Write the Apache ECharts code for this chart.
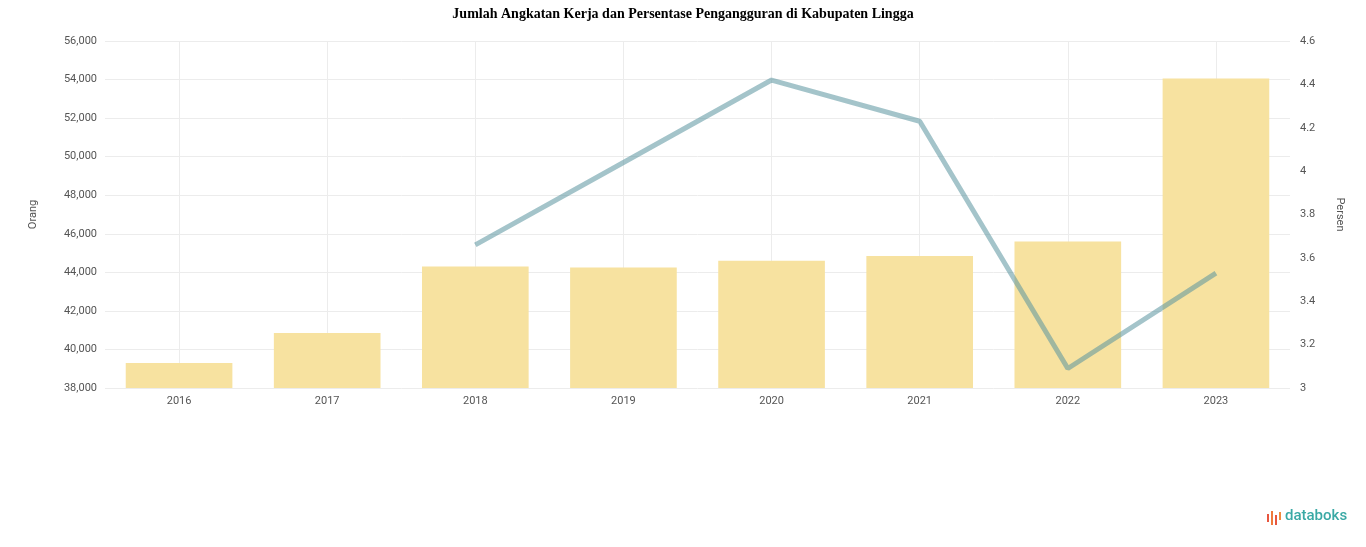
<!DOCTYPE html>
<html><head><meta charset="utf-8">
<script src="https://cdn.jsdelivr.net/npm/echarts@6/dist/echarts.min.js"></script>
<style>html,body{margin:0;padding:0;background:#fff}#c{width:1366px;height:547px}</style>
</head><body><div id="c"></div>
<script>
var categories = ['2016','2017','2018','2019','2020','2021','2022','2023'];
var angkatanKerja = [39300, 40850, 44300, 44250, 44600, 44850, 45600, 54050];
var pengangguran = [null, null, 3.66, 4.04, 4.42, 4.23, 3.09, 3.53];
var leftTicks = {min: 38000, max: 56000, interval: 2000};
var rightTicks = {min: 3, max: 4.6, interval: 0.2};

var chart = echarts.init(document.getElementById('c'));
var lab = {color: '#555', fontSize: 11, fontFamily: 'Roboto, sans-serif'};
chart.setOption({
  animation: false,
  title: {text: 'Jumlah Angkatan Kerja dan Persentase Pengangguran di Kabupaten Lingga', left: 'center', top: 2,
    textStyle: {fontFamily: '"Liberation Serif", serif', fontWeight: 'bold', fontSize: 14, color: '#000'}},
  grid: [
    {left: 105, right: 76, top: 41, bottom: 159},
    {left: 179, right: 150, top: 41, bottom: 159}
  ],
  xAxis: [
    {type: 'category', data: categories, gridIndex: 0, axisLine: {show: false}, axisTick: {show: false},
     axisLabel: Object.assign({margin: 8}, lab), splitLine: {show: false}},
    {type: 'category', data: categories, gridIndex: 1, boundaryGap: false, axisLine: {show: false}, axisTick: {show: false},
     axisLabel: {show: false}, splitLine: {show: true, lineStyle: {color: '#ececec', width: 1}}}
  ],
  yAxis: [
    {type: 'value', gridIndex: 0, min: leftTicks.min, max: leftTicks.max, interval: leftTicks.interval,
     name: 'Orang', nameLocation: 'middle', nameGap: 66, nameTextStyle: {color: '#555', fontSize: 11, fontFamily: 'Roboto, sans-serif'},
     axisLabel: Object.assign({formatter: function(v){return v.toLocaleString('en-US');}}, lab),
     axisLine: {show: false}, axisTick: {show: false}, splitLine: {lineStyle: {color: '#ececec'}}},
    {type: 'value', gridIndex: 0, min: rightTicks.min, max: rightTicks.max, interval: rightTicks.interval, position: 'right',
     name: 'Persen', nameLocation: 'middle', nameGap: 44, nameRotate: -90, nameTextStyle: {color: '#555', fontSize: 11, fontFamily: 'Roboto, sans-serif'},
     axisLabel: Object.assign({formatter: function(v){var s = (Math.round(v*10)/10).toFixed(1); return s.replace(/\.0$/, '');}, margin: 10}, lab),
     axisLine: {show: false}, axisTick: {show: false}, splitLine: {show: false}},
    {type: 'value', gridIndex: 1, show: false}
  ],
  series: [
    {type: 'bar', name: 'Angkatan Kerja', data: angkatanKerja, xAxisIndex: 0, yAxisIndex: 0, barWidth: '72%',
     itemStyle: {color: '#f7e2a0'}},
    {type: 'line', name: 'Pengangguran', data: pengangguran, xAxisIndex: 0, yAxisIndex: 1, symbol: 'none',
     lineStyle: {color: 'rgba(90,148,158,0.55)', width: 5}}
  ],
  graphic: [
    {type: 'rect', shape: {x: 1267, y: 514, width: 2, height: 8}, style: {fill: '#e8563f'}},
    {type: 'rect', shape: {x: 1271, y: 511, width: 2, height: 14}, style: {fill: '#ef7a3c'}},
    {type: 'rect', shape: {x: 1275, y: 515, width: 2, height: 10}, style: {fill: '#e8563f'}},
    {type: 'rect', shape: {x: 1279, y: 512, width: 2, height: 8}, style: {fill: '#f08a3c'}},
    {type: 'text', left: 1285, top: 509, style: {text: 'databoks', fill: '#3aa9a5', font: '500 15px Roboto, sans-serif'}}
  ]
});
</script></body></html>
